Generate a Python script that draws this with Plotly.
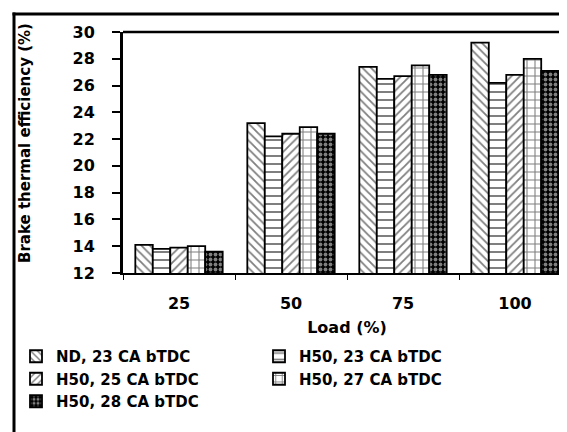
import plotly.graph_objects as go

loads = ["25", "50", "75", "100"]
series_names = ["ND, 23 CA bTDC", "H50, 23 CA bTDC", "H50, 25 CA bTDC",
                "H50, 27 CA bTDC", "H50, 28 CA bTDC"]
nd_23 = [14.1, 23.2, 27.4, 29.2]
h50_23 = [13.8, 22.2, 26.5, 26.2]
h50_25 = [13.9, 22.4, 26.7, 26.8]
h50_27 = [14.0, 22.9, 27.5, 28.0]
h50_28 = [13.6, 22.4, 26.8, 27.1]
values = [nd_23, h50_23, h50_25, h50_27, h50_28]
y_ticks = [12, 14, 16, 18, 20, 22, 24, 26, 28, 30]

patterns = [
    dict(shape="\\", fgcolor="black", bgcolor="white", size=6, solidity=0.3),
    dict(shape="-", fgcolor="black", bgcolor="white", size=8, solidity=0.25),
    dict(shape="/", fgcolor="black", bgcolor="white", size=6, solidity=0.3),
    dict(shape="+", fgcolor="black", bgcolor="white", size=8, solidity=0.25),
    dict(shape=".", fgcolor="white", bgcolor="black", size=5, solidity=0.45),
]

fig = go.Figure()
for name, vals, pat in zip(series_names, values, patterns):
    fig.add_trace(go.Bar(
        x=loads, y=vals, name=name,
        marker=dict(color="white", pattern=pat, line=dict(color="black", width=1.8)),
    ))

FF = "DejaVu Sans, Liberation Sans, Arial, sans-serif"

L, R, T, B = 115, 563, 24, 265
W, H = 567, 432
pw, ph = R - L, B - T

def px(x):
    return (x - L) / pw

def py(y):
    return (B - y) / ph

tickf = dict(family=FF, size=16, color="black", weight="bold")
titlef = dict(family=FF, size=16, color="black", weight="bold")

fig.update_layout(
    width=W, height=H,
    margin=dict(l=L, r=W - R, t=T, b=H - B, pad=0, autoexpand=False),
    paper_bgcolor="white", plot_bgcolor="white",
    barmode="group", bargap=0.22, bargroupgap=0,
    font=dict(family=FF, color="black", size=15),
    showlegend=True,
    legend=dict(
        orientation="h", x=px(8), y=py(332), xanchor="left", yanchor="top",
        entrywidth=198, entrywidthmode="pixels",
        font=dict(family=FF, size=15, color="black", weight="bold"),
        itemwidth=30, tracegroupgap=0, bgcolor="rgba(0,0,0,0)",
    ),
    xaxis=dict(
        type="category", range=[-0.5, 3.5], tickson="boundaries",
        ticks="outside", ticklen=5, tickcolor="black", tickwidth=1,
        showline=True, linecolor="black", linewidth=1.5,
        showgrid=False, zeroline=False, automargin=False,
        tickfont=tickf, ticklabelstandoff=15,
        title=dict(text="Load (%)", standoff=10, font=titlef),
    ),
    yaxis=dict(
        range=[12, 30], tickvals=y_ticks,
        ticks="outside", ticklen=8, tickcolor="black", tickwidth=1.5,
        showline=True, linecolor="black", linewidth=3,
        showgrid=False, zeroline=False, automargin=False,
        tickfont=tickf, ticklabelstandoff=14,
    ),
    annotations=[
        dict(text="Brake thermal efficiency (%)", textangle=-90,
             xref="paper", yref="paper", x=px(17), y=py(135),
             xanchor="center", yanchor="middle", showarrow=False,
             font=dict(family=FF, size=15, color="black", weight="bold")),
    ],
    shapes=[
        dict(type="line", xref="paper", yref="paper", x0=0, x1=1, y0=1, y1=1,
             line=dict(color="black", width=2.5)),
        dict(type="line", xref="paper", yref="paper", x0=1, x1=1, y0=1, y1=py(270),
             line=dict(color="black", width=2.5)),
        dict(type="line", xref="paper", yref="paper", x0=px(4.5), x1=px(600), y0=py(6), y1=py(6),
             line=dict(color="black", width=3)),
        dict(type="line", xref="paper", yref="paper", x0=px(6), x1=px(6), y0=py(4.5), y1=py(429.5),
             line=dict(color="black", width=3)),
        dict(type="line", xref="paper", yref="paper", x0=px(4.5), x1=px(600), y0=py(428), y1=py(428),
             line=dict(color="black", width=3)),
    ],
)

fig.write_html("out.html")
